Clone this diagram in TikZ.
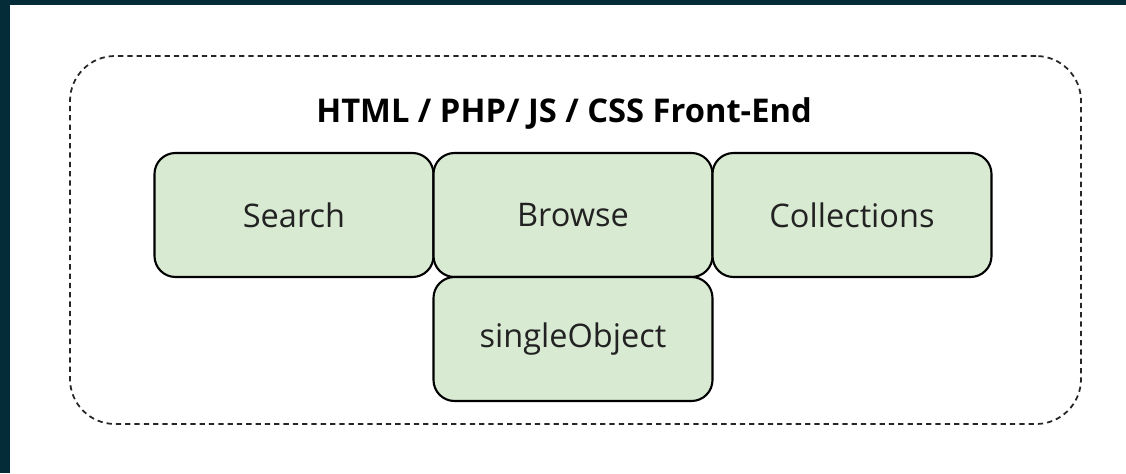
\documentclass[tikz,border=0pt]{standalone}
\usepackage{fontspec}
\setmainfont{Open Sans}
\usetikzlibrary{positioning}
\definecolor{pagedark}{HTML}{032B38}
\definecolor{modfill}{HTML}{D9EAD3}
\definecolor{modtext}{HTML}{222222}
\begin{document}
\begin{tikzpicture}[module/.style={rectangle, draw=black, line width=1.2pt, rounded corners=0.42cm, fill=modfill, outer sep=0pt, minimum width=5.58cm, minimum height=2.48cm, text=modtext, font=\fontsize{18.5}{22}\selectfont}]
% page and dark edges
\useasboundingbox (0,0) rectangle (22.52,-9.46);
\fill[white] (0,0) rectangle (22.52,-9.46);
\fill[pagedark] (0,0) rectangle (0.2,-9.46);
\fill[pagedark] (0,0) rectangle (22.52,-0.09);

\node (frontend) [rectangle, draw=black!85, line width=1pt, dash pattern=on 3pt off 2.3pt, rounded corners=0.9cm, minimum width=20.22cm, minimum height=7.36cm] at (11.51,-4.8) {};
\node (title) [anchor=base, font=\fontsize{18.6}{22}\selectfont\bfseries] at (11.28,-2.44) {HTML / PHP/ JS / CSS Front-End};

\node (search) [module] at (5.88,-4.3) {Search};
\node (browse) [module, right=0pt of search] {Browse};
\node (collections) [module, right=0pt of browse] {Collections};
\node (single) [module, below=0pt of browse] {singleObject};

\end{tikzpicture}
\end{document}
